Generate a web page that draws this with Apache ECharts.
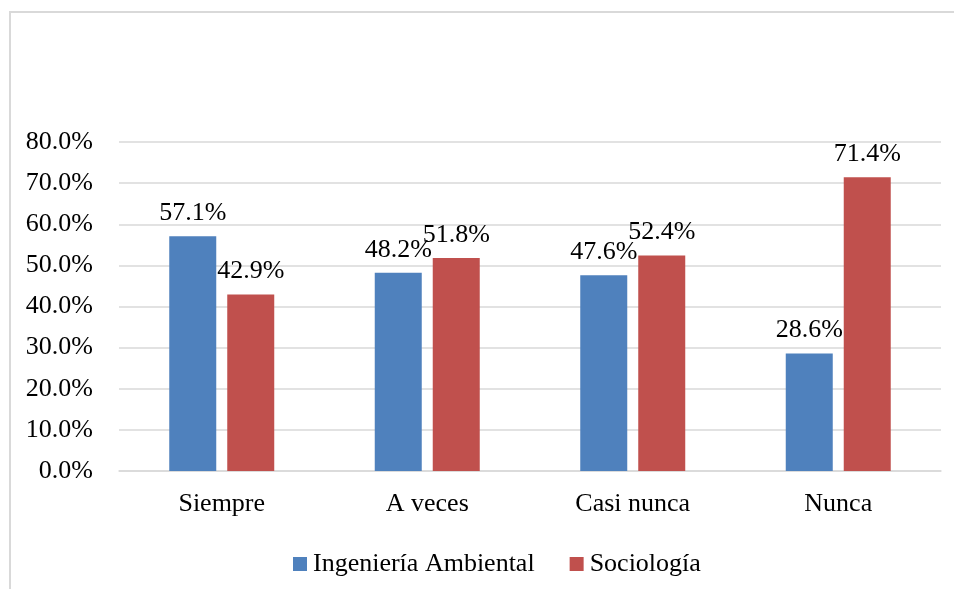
<!DOCTYPE html>
<html>
<head>
<meta charset="utf-8">
<script src="https://cdn.jsdelivr.net/npm/echarts@6/dist/echarts.min.js"></script>
<style>
html,body{margin:0;padding:0;background:#fff;}
#chart{width:954px;height:589px;}
</style>
</head>
<body>
<div id="chart"></div>
<script>
const categories = ['Siempre', 'A veces', 'Casi nunca', 'Nunca'];
const ingenieriaAmbiental = [57.1, 48.2, 47.6, 28.6];
const sociologia = [42.9, 51.8, 52.4, 71.4];
const seriesNames = ['Ingeniería Ambiental', 'Sociología'];

const FONT = '"Liberation Serif", "Times New Roman", serif';
const FS = 26;
const chart = echarts.init(document.getElementById('chart'), null, {renderer: 'canvas'});
const labelCfg = {
  show: true, position: 'top', distance: 10,
  fontFamily: FONT, fontSize: FS, color: '#000',
  formatter: p => p.value.toFixed(1) + '%'
};
chart.setOption({
  animation: false,
  textStyle: {fontFamily: FONT},
  graphic: [{
    type: 'rect', silent: true,
    shape: {x: 10, y: 12, width: 1100, height: 1000},
    style: {fill: 'none', stroke: '#d9d9d9', lineWidth: 2}
  }],
  grid: {left: 119, right: 13, top: 142, bottom: 118},
  legend: {
    data: seriesNames,
    left: 288, top: 546,
    itemWidth: 14, itemHeight: 14, itemGap: 35,
    icon: 'rect',
    textStyle: {fontFamily: FONT, fontSize: FS, color: '#000', padding: [0, 0, 0, 1]}
  },
  xAxis: {
    type: 'category', data: categories,
    axisLine: {lineStyle: {color: '#d9d9d9', width: 1.5}},
    axisTick: {show: false},
    axisLabel: {fontFamily: FONT, fontSize: FS, color: '#000', margin: 20}
  },
  yAxis: {
    type: 'value', min: 0, max: 80, interval: 10,
    axisLine: {show: false}, axisTick: {show: false},
    splitLine: {lineStyle: {color: '#d9d9d9', width: 1.5}},
    axisLabel: {fontFamily: FONT, fontSize: FS, color: '#000', margin: 26,
      formatter: v => v.toFixed(1) + '%'}
  },
  series: [
    {name: seriesNames[0], type: 'bar', data: ingenieriaAmbiental, barWidth: 47, barGap: '23.4%',
      itemStyle: {color: '#4F81BD'}, label: labelCfg},
    {name: seriesNames[1], type: 'bar', data: sociologia, barWidth: 47,
      itemStyle: {color: '#C0504D'}, label: labelCfg}
  ]
});
</script>
</body>
</html>
